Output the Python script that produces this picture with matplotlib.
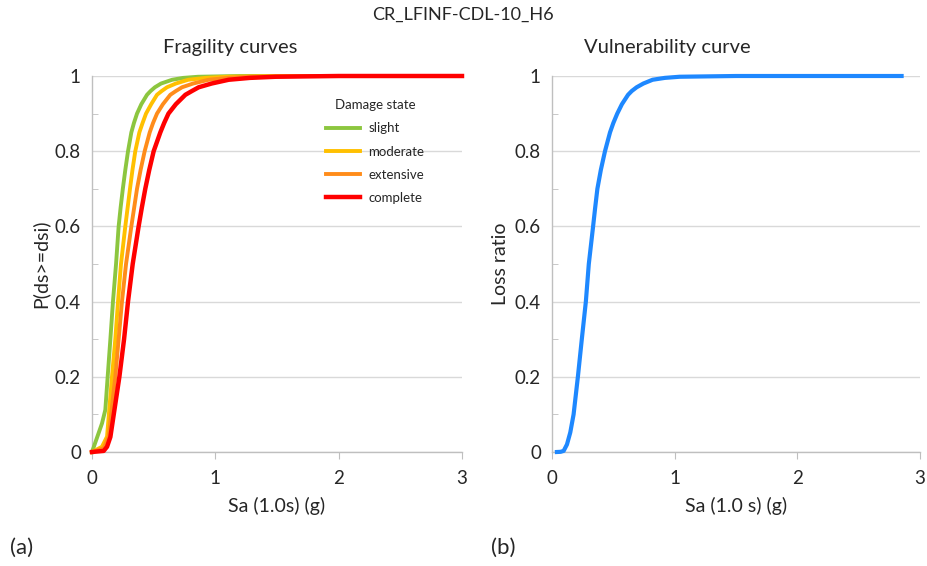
import matplotlib
matplotlib.use("Agg")
import matplotlib.pyplot as plt

plt.rcParams['font.family'] = ['Lato', 'DejaVu Sans']

# values (Sa in g, probability / loss ratio)
sa_slight = [0, 0.081, 0.108, 0.127, 0.149, 0.17, 0.195, 0.216, 0.232, 0.25, 0.27, 0.292,
             0.319, 0.34, 0.365, 0.40, 0.446, 0.475, 0.51, 0.56, 0.65, 0.74, 0.86, 1.2, 3.0]
p_slight = [0, 0.076, 0.112, 0.2, 0.3, 0.4, 0.5, 0.6, 0.65, 0.7, 0.75, 0.8,
            0.85, 0.875, 0.9, 0.925, 0.95, 0.96, 0.97, 0.98, 0.99, 0.995, 0.998, 1.0, 1.0]

sa_moderate = [0, 0.081, 0.122, 0.162, 0.189, 0.211, 0.235, 0.27, 0.289, 0.308, 0.328, 0.351,
               0.384, 0.41, 0.438, 0.48, 0.527, 0.565, 0.608, 0.68, 0.78, 0.92, 1.1, 1.5, 3.0]
p_moderate = [0, 0.014, 0.041, 0.2, 0.3, 0.4, 0.5, 0.6, 0.65, 0.7, 0.75, 0.8,
              0.85, 0.875, 0.9, 0.925, 0.95, 0.96, 0.97, 0.98, 0.99, 0.995, 0.998, 1.0, 1.0]

sa_extensive = [0, 0.095, 0.135, 0.189, 0.216, 0.243, 0.276, 0.319, 0.342, 0.365, 0.394, 0.427,
                0.468, 0.495, 0.527, 0.575, 0.635, 0.68, 0.73, 0.82, 0.946, 1.1, 1.27, 1.7, 3.0]
p_extensive = [0, 0.01, 0.041, 0.2, 0.3, 0.4, 0.5, 0.6, 0.65, 0.7, 0.75, 0.8,
               0.85, 0.875, 0.9, 0.925, 0.95, 0.96, 0.97, 0.98, 0.99, 0.995, 0.998, 1.0, 1.0]

sa_complete = [0, 0.095, 0.122, 0.149, 0.222, 0.26, 0.292, 0.33, 0.378, 0.404, 0.432, 0.464, 0.5,
               0.554, 0.585, 0.62, 0.68, 0.757, 0.81, 0.865, 0.97, 1.108, 1.28, 1.49, 2.0, 3.0]
p_complete = [0, 0.003, 0.014, 0.04, 0.2, 0.3, 0.4, 0.5, 0.6, 0.65, 0.7, 0.75, 0.8,
              0.85, 0.875, 0.9, 0.925, 0.95, 0.96, 0.97, 0.98, 0.99, 0.995, 0.998, 1.0, 1.0]

sa_vuln = [0.04, 0.07, 0.095, 0.122, 0.149, 0.176, 0.211, 0.243, 0.276, 0.30, 0.335, 0.352, 0.37,
           0.398, 0.432, 0.473, 0.50, 0.532, 0.57, 0.62, 0.65, 0.69, 0.745, 0.82, 0.92, 1.04,
           1.5, 2.85]
loss_vuln = [0, 0.0005, 0.003, 0.02, 0.052, 0.1, 0.2, 0.3, 0.4, 0.5, 0.6, 0.65, 0.7,
             0.75, 0.8, 0.85, 0.875, 0.9, 0.925, 0.95, 0.96, 0.97, 0.98, 0.99, 0.995, 0.998,
             1.0, 1.0]

states = ['slight', 'moderate', 'extensive', 'complete']
colors = ['#8cc63f', '#ffc000', '#ff8c1a', '#ff0000']

txt = '#262626'
grid_c = '#d9d9d9'
spine_c = '#bfbfbf'

fig = plt.figure(figsize=(9.27, 5.66), dpi=100)
ax1 = fig.add_axes([92/927, 114/566, 370/927, 376/566])
ax2 = fig.add_axes([552/927, 114/566, 368/927, 376/566])

ax1.plot(sa_slight, p_slight, color=colors[0], lw=2.8, label=states[0], clip_on=False, zorder=3)
ax1.plot(sa_moderate, p_moderate, color=colors[1], lw=2.8, label=states[1], clip_on=False, zorder=4)
ax1.plot(sa_extensive, p_extensive, color=colors[2], lw=2.8, label=states[2], clip_on=False, zorder=5)
ax1.plot(sa_complete, p_complete, color=colors[3], lw=3.2, label=states[3], clip_on=False, zorder=6)

ax2.plot(sa_vuln, loss_vuln, color='#1e88ff', lw=3.0, clip_on=False, zorder=3)

for ax in (ax1, ax2):
    ax.set_xlim(0, 3)
    ax.set_ylim(0, 1)
    ax.set_xticks([0, 1, 2, 3])
    ax.set_xticklabels(['0', '1', '2', '3'])
    ax.set_yticks([0, 0.2, 0.4, 0.6, 0.8, 1])
    ax.set_yticklabels(['0', '0.2', '0.4', '0.6', '0.8', '1'])
    ax.set_yticks([0.1, 0.3, 0.5, 0.7, 0.9], minor=True)
    ax.grid(axis='y', color=grid_c, lw=1.0, zorder=0)
    ax.set_axisbelow(True)
    for s in ('top', 'right'):
        ax.spines[s].set_visible(False)
    for s in ('left', 'bottom'):
        ax.spines[s].set_color(spine_c)
        ax.spines[s].set_linewidth(1.0)
    ax.tick_params(axis='x', direction='out', length=5, color=spine_c,
                   labelsize=13.5, labelcolor=txt, pad=8)
    ax.tick_params(axis='y', which='major', length=0, labelsize=13.5,
                   labelcolor=txt, pad=8)
    ax.tick_params(axis='y', which='minor', direction='in', length=4, color=spine_c)

ax1.set_ylabel('P(ds>=dsi)', fontsize=14, color=txt, labelpad=4)
ax2.set_ylabel('Loss ratio', fontsize=14, color=txt, labelpad=4)
ax1.set_xlabel('Sa (1.0s) (g)', fontsize=14, color=txt, labelpad=7)
ax2.set_xlabel('Sa (1.0 s) (g)', fontsize=14, color=txt, labelpad=7)

leg = ax1.legend(title='Damage state', frameon=False, loc='upper left',
                 bbox_to_anchor=(0.6, 0.97), fontsize=9.5, title_fontsize=9.5,
                 handlelength=2.6, labelspacing=0.85, handletextpad=0.6)
for t in leg.get_texts():
    t.set_color(txt)
leg.get_title().set_color(txt)

fig.text(463/927, 1 - 15/566, 'CR_LFINF-CDL-10_H6', ha='center', va='center',
         fontsize=13, color=txt)
fig.text(230/927, 1 - 47/566, 'Fragility curves', ha='center', va='center',
         fontsize=14.5, color=txt)
fig.text(667/927, 1 - 47/566, 'Vulnerability curve', ha='center', va='center',
         fontsize=14.5, color=txt)
fig.text(22/927, 1 - 548/566, '(a)', ha='center', va='center', fontsize=16, color=txt)
fig.text(503/927, 1 - 548/566, '(b)', ha='center', va='center', fontsize=16, color=txt)

fig.savefig('out.png', dpi=100)
